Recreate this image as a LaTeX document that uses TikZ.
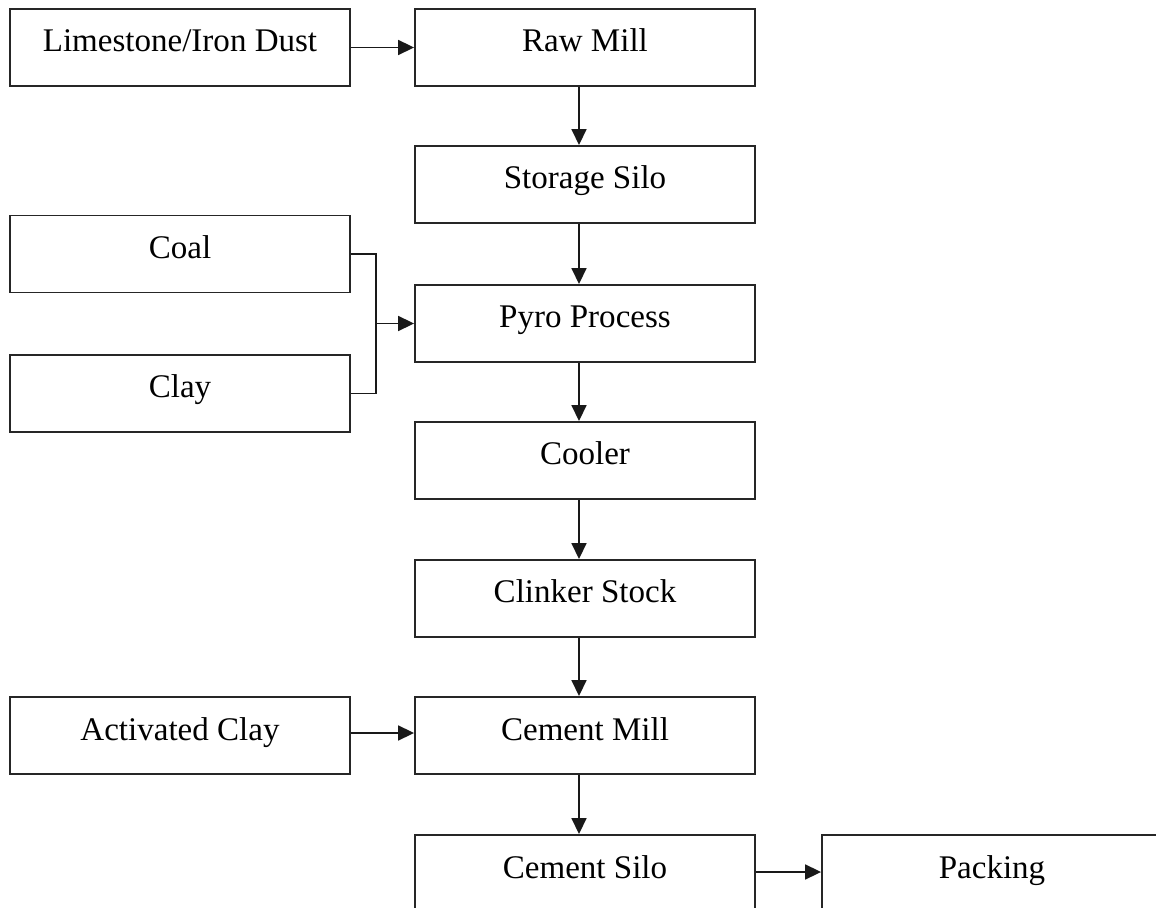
\documentclass[tikz,border=0pt]{standalone}
\usepackage{fontspec}
\setmainfont{Liberation Serif}
\usetikzlibrary{arrows.meta}
\tikzstyle{stage} = [rectangle, draw=black!85, line width=1.1pt, minimum width=6.8cm, minimum height=1.54cm, inner sep=0pt, text height=0.5cm, text depth=0.32cm, font=\fontsize{18.8}{22}\selectfont]
\tikzstyle{flow} = [draw=black!90, line width=1pt, -{Triangle[length=0.32cm, width=0.3cm]}]

\begin{document}
\begin{tikzpicture}[x=0.02cm, y=-0.02cm]%
			\useasboundingbox (0,0) rectangle (1156,908);%
			\clip (0,0) rectangle (1156,908);%
			% left column
			\node [stage] (lime) at (180,47.5) {Limestone/Iron Dust};%
			\node [stage] (coal) at (180,254) {Coal};%
			\node [stage] (clay) at (180,393.5) {Clay};%
			\node [stage] (actclay) at (180,735.5) {Activated Clay};%
			% main line
			\node [stage] (raw) at (585,47.5) {Raw Mill};%
			\node [stage] (silo) at (585,184.5) {Storage Silo};%
			\node [stage] (pyro) at (585,323.5) {Pyro Process};%
			\node [stage] (cooler) at (585,460.5) {Cooler};%
			\node [stage] (clinker) at (585,598.5) {Clinker Stock};%
			\node [stage] (cmill) at (585,735.5) {Cement Mill};%
			\node [stage] (csilo) at (585,873.5) {Cement Silo};%
			\node [stage] (pack) at (992,873.5) {Packing};%
			% arrows
			\draw [flow] (lime.east) -- (raw.west);%
			\foreach \a/\b in {raw/silo, silo/pyro, pyro/cooler, cooler/clinker, clinker/cmill, cmill/csilo}%
				\draw [flow] ([xshift=-0.12cm]\a.south) -- ([xshift=-0.12cm]\b.north);%
			\draw [draw=black!90, line width=1pt] (coal.east) -- ++(25,0) |- (clay.east);%
			\coordinate (join) at ([xshift=0.5cm]coal.east |- pyro.west);%
			\draw [flow] (join) -- (pyro.west);%
			\draw [flow] ([yshift=0.05cm]actclay.east) -- ([yshift=0.05cm]cmill.west);%
			\draw [flow] ([yshift=0.03cm]csilo.east) -- ([yshift=0.03cm]pack.west);%
		\end{tikzpicture}
\end{document}
